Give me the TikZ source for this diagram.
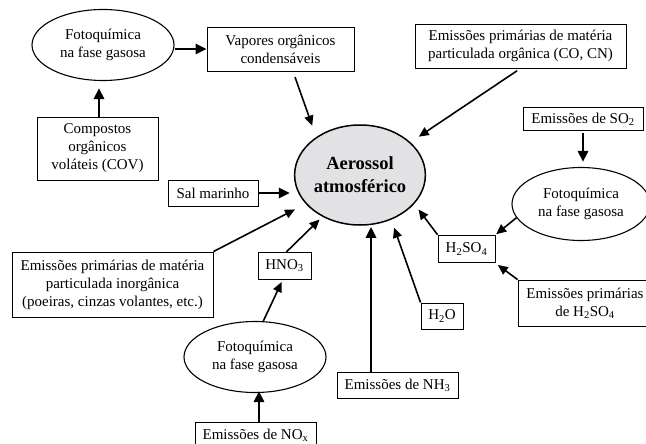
\documentclass[tikz,border=0pt]{standalone}
\usepackage{fontspec}
\setmainfont{Liberation Serif}
\usetikzlibrary{arrows.meta,shapes.geometric}
\definecolor{aerfill}{RGB}{226,226,229}
\tikzset{
  lbl/.style={font=\fontsize{15}{18}\selectfont, align=center, inner sep=0pt},
  boxnode/.style={lbl, draw, line width=0.9pt, rectangle},
  ellnode/.style={lbl, draw, line width=1.1pt, ellipse},
  thinarrow/.style={line width=1.6pt, -{Triangle[length=10pt,width=9pt]}},
  thickarrow/.style={line width=2.8pt, -{Triangle[length=11pt,width=10pt]}},
}
\begin{document}
\begin{tikzpicture}[x=1pt,y=-1pt]
\useasboundingbox (0,0) rectangle (646,444);
% central aerosol
\node[ellnode, line width=1.5pt, fill=aerfill, minimum width=126pt, minimum height=100pt,
      font=\bfseries\fontsize{18.5}{23}\selectfont] (aer) at (360,175) {Aerossol\\atmosférico};
% ellipses
\node[ellnode, minimum width=142pt, minimum height=71pt] (e1) at (103,45) {Fotoquímica\\na fase gasosa};
\node[ellnode, minimum width=138pt, minimum height=73pt] (e2) at (581,204) {Fotoquímica\\na fase gasosa};
\node[ellnode, minimum width=142pt, minimum height=71pt] (e3) at (255,357) {Fotoquímica\\na fase gasosa};
% boxes
\node[boxnode, minimum width=147pt, minimum height=44pt] (vap) at (280.5,49) {Vapores orgânicos\\condensáveis};
\node[boxnode, minimum width=121pt, minimum height=63pt] (cov) at (97.5,148.5) {Compostos\\orgânicos\\voláteis (COV)};
\node[boxnode, minimum width=90pt, minimum height=26pt] (sal) at (213,193) {Sal marinho};
\node[boxnode, minimum width=211pt, minimum height=44pt] (org) at (520.5,46) {Emissões primárias de matéria\\particulada orgânica (CO, CN)};
\node[boxnode, minimum width=120pt, minimum height=22.5pt] (so2) at (583,119) {Emissões de SO\textsubscript{2}};
\node[boxnode, minimum width=57pt, minimum height=27.5pt] (h2so4) at (466.5,249) {H\textsubscript{2}SO\textsubscript{4}};
\node[boxnode, minimum width=134pt, minimum height=46pt] (eph) at (585,303) {Emissões primárias\\de H\textsubscript{2}SO\textsubscript{4}};
\node[boxnode, minimum width=42pt, minimum height=26pt] (h2o) at (442,316) {H\textsubscript{2}O};
\node[boxnode, minimum width=121pt, minimum height=26pt] (nh3) at (397.5,385) {Emissões de NH\textsubscript{3}};
\node[boxnode, minimum width=201pt, minimum height=65pt] (inorg) at (112.5,284.5) {Emissões primárias de matéria\\particulada inorgânica\\(poeiras, cinzas volantes, etc.)};
\node[boxnode, minimum width=53pt, minimum height=27.5pt] (hno3) at (284.5,266) {HNO\textsubscript{3}};
\node[boxnode, minimum width=121pt, minimum height=26pt] (nox) at (255.5,435) {Emissões de NO\textsubscript{x}};
% helper coordinates
\coordinate (covtop) at ([xshift=1.5pt]cov.north);
\coordinate (nh3top) at ([xshift=-26.5pt]nh3.north);
\coordinate (noxtop) at ([xshift=3.5pt]nox.north);
% thick arrows
\draw[thickarrow] (vap.west -| e1.east) -- (vap.west);
\draw[thickarrow, shorten >=7pt] (covtop) -- (covtop |- e1.south);
\draw[thickarrow, shorten >=4pt] (sal.east) -- (sal.east -| aer.west);
\draw[thickarrow, shorten <=2pt, shorten >=5pt] (so2.south) -- (so2.south |- e2.north);
\draw[thickarrow, shorten >=1pt] (nh3top) -- (nh3top |- aer.south);
\draw[thickarrow, shorten >=-2pt] (noxtop) -- (noxtop |- e3.south);
% thin arrows
\draw[thinarrow, shorten <=6pt, shorten >=12pt] ([xshift=12.5pt]vap.south) -- (aer.139);
\draw[thinarrow, shorten <=4pt, shorten >=10pt] (org.south) -- (aer.33);
\draw[thinarrow, shorten >=12pt] (inorg.north east) -- (aer.208);
\draw[thinarrow, shorten >=4pt] ([xshift=2pt]hno3.north) -- (aer.228);
\draw[thinarrow, shorten >=2pt] (e3.77) -- ([xshift=-2pt]hno3.south);
\draw[thinarrow, shorten >=8.5pt] (h2o.north west) -- (aer.305);
\draw[thinarrow, shorten >=7pt] (h2so4.north west) -- (aer.332);
\draw[thinarrow, shorten >=1pt] (e2.192) -- (h2so4.north east);
\draw[thinarrow, shorten >=3pt] (eph.north west) -- (h2so4.south east);
\end{tikzpicture}
\end{document}
